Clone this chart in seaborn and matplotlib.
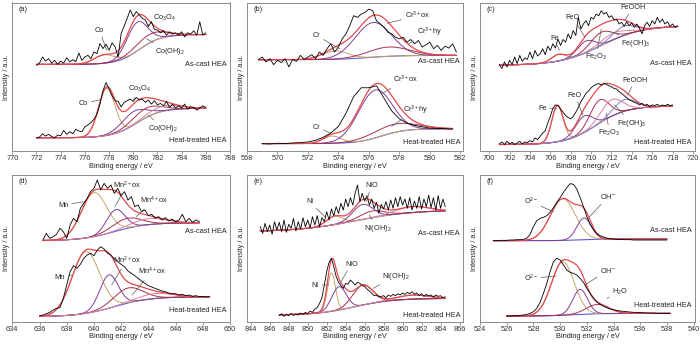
import numpy as np
import matplotlib
matplotlib.use("Agg")
import matplotlib.pyplot as plt
import seaborn as sns

# ---------------- data (intensities in arbitrary units) ----------------
# (a) Co 2p
a_cast_range = (772.0, 786.0)
a_cast_raw = [255, 262, 280, 268, 275, 262, 270, 258, 268, 262,
              278, 265, 272, 266, 292, 270, 280, 285, 275, 295,
              290, 320, 305, 318, 300, 322, 310, 280, 350, 372,
              395, 420, 400, 415, 405, 395, 390, 370, 385, 362,
              360, 352, 358, 345, 355, 348, 352, 345, 355, 340,
              352, 348, 358, 345, 385, 345, 352]
a_cast_bg = (258, 347, 780.5, 0.9)
a_cast_peaks = [(777.6, 25, 2.0), (780.3, 85, 2.0), (781.3, 25, 3.0)]

a_heat_range = (772.0, 786.0)
a_heat_raw = [40, 42, 52, 45, 50, 44, 40, 48, 46, 62,
              50, 58, 52, 65, 60, 58, 72, 78, 85, 95,
              110, 140, 180, 204, 185, 165, 150, 148, 132, 145,
              150, 155, 148, 160, 152, 155, 145, 152, 140, 150,
              138, 142, 135, 148, 130, 140, 128, 135, 128, 140,
              125, 132, 130, 122, 128, 135, 130]
a_heat_bg = (40, 128, 780.3, 1.0)
a_heat_peaks = [(777.8, 140, 1.6), (780.0, 40, 2.4), (781.0, 28, 2.8), (782.5, 15, 3.0)]

# (b) Cr 2p
b_cast_range = (568.75, 581.75)
b_cast_raw = [277, 285, 270, 280, 262, 275, 268, 280, 255, 278,
              272, 290, 278, 285, 292, 280, 300, 290, 310, 325,
              300, 315, 340, 355, 380, 410, 405, 415, 420, 430,
              425, 395, 385, 375, 360, 355, 345, 340, 345, 330,
              338, 325, 335, 315, 322, 330, 310, 320, 305, 318,
              312, 325, 300]
b_cast_bg = (277, 290, 576.0, 1.0)
b_cast_peaks = [(573.8, 25, 2.0), (576.3, 105, 2.8), (577.3, 28, 3.2)]

b_heat_range = (569.0, 581.5)
b_heat_raw = [23, 22, 24, 23, 25, 26, 28, 33, 42, 55, 75, 115, 165,
              192, 192, 198, 160, 122, 98, 85, 78, 74, 70, 69, 68, 67]
b_heat_bg = (23, 68, 576.8, 0.8)
b_heat_peaks = [(573.6, 22, 1.4), (576.4, 145, 2.6), (577.6, 25, 3.5)]

# (c) Fe 2p
c_cast_range = (701.0, 718.5)
c_cast_raw = [262, 250, 270, 255, 275, 262, 285, 265, 290, 272,
              282, 278, 300, 280, 305, 288, 295, 310, 292, 318,
              305, 325, 312, 340, 320, 338, 330, 355, 340, 365,
              350, 405, 370, 385, 395, 380, 405, 400, 415, 410,
              425, 415, 420, 405, 410, 398, 400, 385, 390, 378,
              392, 380, 388, 375, 385, 372, 355, 380, 390, 378,
              395, 385, 405, 390, 400, 385, 392, 378, 385, 375,
              380]
c_cast_bg = (260, 380, 711.0, 2.0)
c_cast_peaks = [(706.8, 20, 1.6), (709.5, 35, 2.0), (711.0, 40, 2.5), (712.2, 20, 3.0), (713.2, 28, 2.5)]

c_heat_range = (701.0, 718.0)
c_heat_raw = [22, 28, 20, 30, 22, 27, 20, 25, 30, 22,
              28, 26, 32, 28, 40, 35, 45, 55, 62, 85,
              105, 130, 140, 138, 128, 118, 108, 102, 98, 105,
              118, 132, 150, 162, 175, 182, 192, 198, 202, 205,
              200, 206, 202, 198, 195, 190, 188, 180, 175, 168,
              162, 155, 152, 148, 145, 140, 145, 138, 142, 135,
              140, 138, 142, 136, 140, 137, 142, 138, 140]
c_heat_bg = (20, 137, 710.5, 1.5)
c_heat_peaks = [(706.7, 110, 1.3), (709.3, 50, 2.0), (710.8, 70, 2.2), (712.0, 50, 2.5), (713.3, 35, 2.5)]

# (d) Mn 2p
d_cast_range = (636.25, 647.75)
d_cast_raw = [245, 265, 250, 255, 262, 280, 270, 250, 290, 310,
              300, 340, 355, 370, 390, 400, 425, 395, 415, 400,
              410, 385, 400, 378, 390, 365, 375, 345, 350, 330,
              335, 318, 322, 310, 315, 305, 312, 302, 308, 300,
              305, 322, 300, 310, 298, 305, 300]
d_cast_bg = (243, 297, 641.5, 1.2)
d_cast_peaks = [(640.0, 132, 2.2), (641.6, 65, 1.6), (642.4, 30, 2.5), (644.0, 18, 3.0)]

d_heat_range = (636.0, 648.5)
d_heat_raw = [18, 20, 24, 28, 35, 40, 42, 70, 110, 150,
              168, 160, 172, 190, 200, 205, 198, 215, 225, 218,
              205, 200, 188, 180, 172, 165, 152, 145, 138, 130,
              122, 115, 108, 104, 100, 96, 92, 90, 86, 84,
              84, 80, 82, 78, 80, 76, 78, 75, 76, 74,
              75]
d_heat_bg = (15, 75, 641.5, 1.3)
d_heat_peaks = [(639.4, 185, 2.4), (641.1, 100, 1.6), (642.5, 45, 2.5), (644.5, 15, 3.0)]

# (e) Ni 2p
e_cast_range = (845.0, 864.5)
e_cast_raw = [285, 265, 295, 270, 290, 262, 300, 275, 298, 270,
              305, 268, 292, 280, 310, 272, 300, 278, 312, 285,
              305, 282, 315, 290, 318, 285, 312, 300, 330, 305,
              338, 318, 345, 325, 355, 335, 368, 345, 372, 350,
              385, 410, 360, 385, 362, 378, 350, 368, 340, 358,
              325, 352, 338, 360, 335, 365, 340, 372, 345, 375,
              350, 368, 340, 372, 335, 362, 340, 375, 338, 368,
              345, 380, 342, 372, 335, 378, 340, 368, 345]
e_cast_bg = (270, 335, 855.0, 3.0)
e_cast_peaks = [(852.8, 25, 2.0), (855.8, 45, 2.5), (856.8, 20, 3.0), (861.0, 18, 4.0)]

e_heat_range = (847.0, 864.5)
e_heat_raw = [18, 24, 16, 22, 18, 25, 19, 22, 20, 26,
              22, 28, 24, 32, 28, 38, 42, 55, 72, 110,
              150, 178, 190, 165, 135, 118, 108, 100, 115, 112,
              125, 118, 110, 118, 115, 108, 106, 98, 92, 85,
              78, 80, 74, 76, 78, 72, 80, 76, 82, 78,
              84, 80, 86, 82, 88, 84, 90, 82, 86, 78,
              84, 76, 82, 78, 80, 74, 80, 76, 78, 72,
              75]
e_heat_bg = (20, 70, 855.0, 2.0)
e_heat_peaks = [(852.5, 115, 1.0), (853.3, 70, 1.8), (855.8, 60, 2.5), (861.0, 12, 4.0)]

# (f) O 1s
f_cast_range = (525.0, 538.0)
f_cast_raw = [243, 243, 244, 244, 244, 245, 245, 246, 246, 247,
              250, 262, 285, 303, 310, 313, 318, 328, 342, 358,
              372, 388, 402, 414, 412, 398, 372, 345, 315, 292,
              275, 264, 258, 254, 251, 249, 248, 247, 247, 246,
              246, 246, 245, 245, 245, 245, 245, 245, 245, 245,
              245, 245, 245]
f_cast_bg = (243, 248, 531.5, 0.8)
f_cast_peaks = [(530.2, 125, 2.2), (531.8, 65, 1.3)]

f_heat_range = (526.0, 538.25)
f_heat_raw = [17, 17, 18, 18, 19, 20, 22, 25, 30, 40,
              58, 85, 115, 150, 180, 190, 185, 170, 155, 148,
              145, 140, 130, 118, 100, 85, 72, 60, 52, 46,
              42, 38, 36, 34, 32, 31, 30, 29, 28, 28,
              27, 27, 26, 26, 26, 25, 25, 25, 25, 25]
f_heat_bg = (17, 25, 531.0, 1.0)
f_heat_peaks = [(530.2, 160, 2.0), (531.5, 75, 1.3), (532.8, 28, 2.0)]

sample_labels = ["As-cast HEA", "Heat-treated HEA"]
panel_tags = ["(a)", "(b)", "(c)", "(d)", "(e)", "(f)"]

# ---------------- style ----------------
sns.set_theme(style="white")
plt.rcParams["font.family"] = ["Liberation Sans", "DejaVu Sans"]
plt.rcParams["mathtext.fontset"] = "custom"
plt.rcParams["mathtext.rm"] = "Liberation Sans"
plt.rcParams["mathtext.it"] = "Liberation Sans"
plt.rcParams["mathtext.default"] = "regular"

FS = 5.3
ENV = "#e5484d"
BGC = "#5b5bd6"
COMP = ["#c9a26b", "#7f3f98", "#a8324a", "#d9849b", "#8b7fc9"]


def shirley_like(x, b):
    lo, hi, xc, w = b
    return lo + (hi - lo) / (1.0 + np.exp(-(x - xc) / w))


def gauss(x, p):
    c, h, fw = p
    return h * np.exp(-4.0 * np.log(2.0) * (x - c) ** 2 / fw ** 2)


def draw_spectrum(ax, rng, raw, bg, peaks):
    xs = np.linspace(rng[0], rng[1], 400)
    base = shirley_like(xs, bg)
    comps = [gauss(xs, p) for p in peaks]
    sns.lineplot(x=xs, y=base, ax=ax, color=BGC, lw=0.8)
    for i, c in enumerate(comps):
        sns.lineplot(x=xs, y=base + c, ax=ax, color=COMP[i], lw=0.7)
    sns.lineplot(x=xs, y=base + np.sum(comps, axis=0), ax=ax, color=ENV, lw=0.9)
    rx = np.linspace(rng[0], rng[1], len(raw))
    sns.lineplot(x=rx, y=raw, ax=ax, color="black", lw=0.6)


panels = [
    dict(spec=[(a_cast_range, a_cast_raw, a_cast_bg, a_cast_peaks),
               (a_heat_range, a_heat_raw, a_heat_bg, a_heat_peaks)],
         xlim=(770, 788), ticks=np.arange(770, 789, 2), ylim=442, lab=(0.58, 0.072),
         ann=[("Co", (777.8, 300), (777.2, 360)), ("Co$_3$O$_4$", (781.1, 374), (782.6, 395)),
              ("Co(OH)$_2$", (781.1, 334), (783.0, 297)), ("Co", (777.4, 154), (775.9, 142)),
              ("Co$_3$O$_4$", (780.0, 152), (780.55, 184)), ("Co(OH)$_2$", (781.25, 107), (782.5, 67))]),
    dict(spec=[(b_cast_range, b_cast_raw, b_cast_bg, b_cast_peaks),
               (b_heat_range, b_heat_raw, b_heat_bg, b_heat_peaks)],
         xlim=(568, 582.2), ticks=np.arange(568, 583, 2), ylim=450, lab=(0.60, 0.06),
         ann=[("Cr", (574.1, 310), (572.55, 350)), ("Cr$^{3+}$ox", (577.2, 387), (579.2, 410)),
              ("Cr$^{3+}$hy", (578.6, 325), (580.0, 360)), ("Cr", (573.5, 55), (572.55, 73)),
              ("Cr$^{3+}$ox", (576.9, 175), (578.4, 217)), ("Cr$^{3+}$hy", (577.5, 75), (579.05, 125))]),
    dict(spec=[(c_cast_range, c_cast_raw, c_cast_bg, c_cast_peaks),
               (c_heat_range, c_heat_raw, c_heat_bg, c_heat_peaks)],
         xlim=(699.1, 720.2), ticks=np.arange(700, 721, 2), ylim=450, lab=(0.593, 0.06),
         ann=[("Fe", (706.9, 305), (706.4, 340)), ("FeO", (709.4, 345), (708.2, 405)),
              ("FeOOH", (713.3, 395), (714.1, 435)), ("Fe(OH)$_3$", (712.2, 360), (714.4, 325)),
              ("Fe$_2$O$_3$", (711.0, 370), (710.5, 285)), ("Fe", (706.6, 130), (705.2, 130)),
              ("FeO", (709.2, 110), (708.4, 170)), ("FeOOH", (713.6, 170), (714.3, 215)),
              ("Fe(OH)$_3$", (712.3, 140), (714.0, 85)), ("Fe$_2$O$_3$", (711.5, 115), (711.8, 55))]),
    dict(spec=[(d_cast_range, d_cast_raw, d_cast_bg, d_cast_peaks),
               (d_heat_range, d_heat_raw, d_heat_bg, d_heat_peaks)],
         xlim=(634, 650), ticks=np.arange(634, 651, 2), ylim=440, lab=(0.618, 0.073),
         ann=[("Mn", (639.3, 360), (637.75, 350)), ("Mn$^{2+}$ox", (641.55, 345), (642.4, 410)),
              ("Mn$^{4+}$ox", (643.1, 315), (644.4, 365)), ("Mn", (638.4, 140), (637.5, 133)),
              ("Mn$^{2+}$ox", (641.3, 110), (642.4, 185)), ("Mn$^{4+}$ox", (642.8, 80), (644.25, 150))]),
    dict(spec=[(e_cast_range, e_cast_raw, e_cast_bg, e_cast_peaks),
               (e_heat_range, e_heat_raw, e_heat_bg, e_heat_peaks)],
         xlim=(843.6, 866.4), ticks=np.arange(844, 867, 2), ylim=440, lab=(0.60, 0.045),
         ann=[("Ni", (851.8, 315), (850.2, 360)), ("NiO", (856.2, 360), (856.7, 410)),
              ("Ni(OH)$_2$", (856.5, 320), (857.4, 280)), ("Ni", (852.2, 110), (850.8, 110)),
              ("NiO", (853.4, 115), (854.6, 173)), ("Ni(OH)$_2$", (856.9, 100), (859.3, 137))]),
    dict(spec=[(f_cast_range, f_cast_raw, f_cast_bg, f_cast_peaks),
               (f_heat_range, f_heat_raw, f_heat_bg, f_heat_peaks)],
         xlim=(524, 540.1), ticks=np.arange(524, 541, 2), ylim=440, lab=(0.62, 0.11),
         ann=[("O$^{2-}$", (529.5, 330), (527.8, 360)), ("OH$^{-}$", (532.1, 310), (533.6, 375)),
              ("O$^{2-}$", (529.7, 137), (527.8, 130)), ("OH$^{-}$", (531.85, 110), (533.6, 155)),
              ("H$_2$O", (533.5, 70), (534.5, 90))]),
]

W, H = 700, 344
fig = plt.figure(figsize=(7.0, 3.44), dpi=100)
col_px = [(12.3, 230.0), (247.0, 463.3), (480.0, 695.0)]
row_px = [(2.5, 151.2), (175.0, 321.7)]

for k, pnl in enumerate(panels):
    r, c = divmod(k, 3)
    l, rr = col_px[c]
    t, b = row_px[r]
    ax = fig.add_axes([l / W, 1 - b / H, (rr - l) / W, (b - t) / H])
    for spec in pnl["spec"]:
        draw_spectrum(ax, *spec)
    ax.set_xlim(*pnl["xlim"])
    ax.set_ylim(0, pnl["ylim"])
    ax.set_yticks([])
    ax.set_xticks(pnl["ticks"])
    ax.set_xticklabels([str(int(v)) for v in pnl["ticks"]])
    ax.tick_params(axis="x", direction="out", length=2, width=0.6, pad=0.8,
                   labelsize=FS, colors="0.55", labelcolor="0.2", bottom=True)
    for s in ax.spines.values():
        s.set_color("0.55")
        s.set_linewidth(0.7)
    ax.set_xlabel("Binding energy / eV", fontsize=FS, color="0.15", labelpad=0.6)
    ax.set_ylabel("Intensity / a.u.", fontsize=FS, color="0.15", labelpad=1.5)
    ax.text(0.03, 0.955, panel_tags[k], transform=ax.transAxes, fontsize=FS,
            color="0.15", ha="left", va="center")
    ax.text(0.985, pnl["lab"][0], sample_labels[0], transform=ax.transAxes,
            fontsize=FS, color="0.15", ha="right", va="center")
    ax.text(0.985, pnl["lab"][1], sample_labels[1], transform=ax.transAxes,
            fontsize=FS, color="0.15", ha="right", va="center")
    for txt, xy, xyt in pnl["ann"]:
        ax.annotate(txt, xy=xy, xytext=xyt, fontsize=FS, color="0.15",
                    ha="center", va="center",
                    arrowprops=dict(arrowstyle="-", color="0.35", lw=0.5,
                                    shrinkA=0, shrinkB=0))
    if ax.get_legend() is not None:
        ax.get_legend().remove()

fig.savefig("out.png", dpi=100)
